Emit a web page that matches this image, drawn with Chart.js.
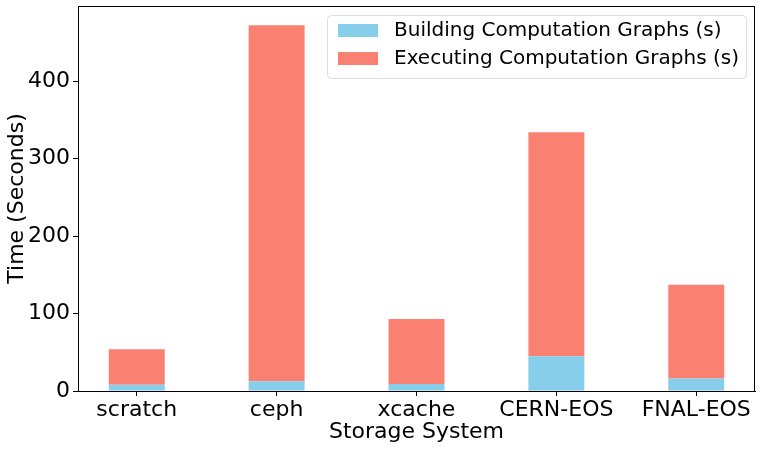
<!DOCTYPE html>
<html>
<head>
<meta charset="utf-8">
<script src="https://cdn.jsdelivr.net/npm/chart.js@4"></script>
<style>
  body { margin: 0; background: #fff; }
  #wrap { width: 762px; height: 449px; }
</style>
</head>
<body>
<div id="wrap"><canvas id="chart" width="762" height="449"></canvas></div>
<script>
const storageSystems = ['scratch', 'ceph', 'xcache', 'CERN-EOS', 'FNAL-EOS'];
const buildTimes = [8, 12.5, 9, 45, 16];
const totalTimes = [54, 472, 93, 334, 137];
const execTimes = totalTimes.map((t, i) => t - buildTimes[i]);
const yTicks = [0, 100, 200, 300, 400];

const FONT = 'DejaVu Sans';

// matplotlib style frame + legend box inside the axes
const framePlugin = {
    id: 'frame',
    afterDraw(chart) {
        const { ctx, chartArea: a } = chart;
        ctx.save();
        ctx.strokeStyle = '#000';
        ctx.lineWidth = 1;
        ctx.strokeRect(a.left + 0.5, a.top + 0.5, a.right - a.left - 1, a.bottom - a.top);

        // legend
        const x = 327, y = 15, w = 419, h = 63;
        ctx.fillStyle = 'rgba(255,255,255,0.8)';
        ctx.strokeStyle = '#dcdcdc';
        ctx.beginPath();
        ctx.roundRect(x + 0.5, y + 0.5, w, h, 4);
        ctx.fill();
        ctx.stroke();
        ctx.font = '20px ' + FONT;
        ctx.textBaseline = 'middle';
        chart.data.datasets.forEach((ds, i) => {
            const ry = y + 9 + i * 28;
            ctx.fillStyle = ds.backgroundColor;
            ctx.fillRect(x + 11, ry, 40, 13);
            ctx.fillStyle = '#000';
            ctx.fillText(ds.label, x + 67, ry + 7);
        });
        ctx.restore();
    }
};

new Chart(document.getElementById('chart'), {
    type: 'bar',
    data: {
        datasets: [
            {
                label: 'Building Computation Graphs (s)',
                data: buildTimes.map((v, i) => ({ x: i, y: v })),
                backgroundColor: '#87CEEB',
                barPercentage: 0.4,
                categoryPercentage: 1
            },
            {
                label: 'Executing Computation Graphs (s)',
                data: execTimes.map((v, i) => ({ x: i, y: v })),
                backgroundColor: '#FA8072',
                barPercentage: 0.4,
                categoryPercentage: 1
            }
        ]
    },
    options: {
        responsive: false,
        animation: false,
        layout: { padding: { top: 6, right: 7, left: 0, bottom: 0 } },
        plugins: {
            legend: { display: false },
            tooltip: { enabled: false }
        },
        scales: {
            x: {
                type: 'linear',
                stacked: true,
                offset: false,
                min: -0.42,
                max: 4.42,
                afterBuildTicks(s) { s.ticks = storageSystems.map((_, i) => ({ value: i })); },
                grid: { drawOnChartArea: false, offset: false, tickLength: 5, color: '#000' },
                border: { color: '#000' },
                ticks: {
                    color: '#000', font: { family: FONT, size: 22 }, padding: 1, maxRotation: 0,
                    callback: v => storageSystems[v]
                },
                title: { display: true, text: 'Storage System', color: '#000', font: { family: FONT, size: 22 }, padding: { top: -2 } },
                afterFit(s) { s.height = 58; s.paddingLeft = 0; s.paddingRight = 0; }
            },
            y: {
                stacked: true,
                min: 0,
                max: 497,
                afterBuildTicks(s) { s.ticks = yTicks.map(v => ({ value: v })); },
                grid: { drawOnChartArea: false, tickLength: 5, color: '#000' },
                border: { color: '#000' },
                ticks: { color: '#000', font: { family: FONT, size: 22 }, padding: 3 },
                title: { display: true, text: 'Time (Seconds)', color: '#000', font: { family: FONT, size: 22 }, padding: { bottom: 2 } },
                afterFit(s) { s.width = 78; s.paddingTop = 0; s.paddingBottom = 0; }
            }
        }
    },
    plugins: [framePlugin]
});
</script>
</body>
</html>
